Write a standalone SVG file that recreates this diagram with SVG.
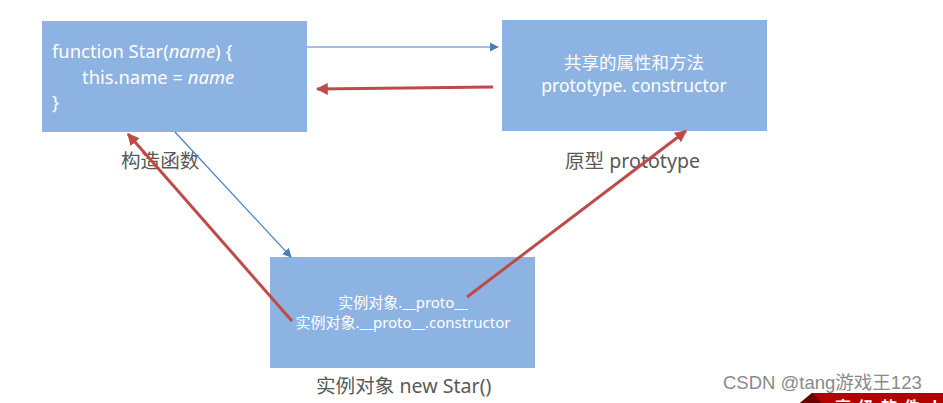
<svg xmlns="http://www.w3.org/2000/svg" width="943" height="403" viewBox="0 0 943 403">
<style>
.box{fill:#8DB3E2}
.wt{fill:#ffffff;font-family:"Noto Sans","Noto Sans CJK SC",sans-serif}
.lbl{fill:#595959;font-family:"Noto Sans","Noto Sans CJK SC",sans-serif;font-size:19.6px}
.blue{stroke:#4A7EBB;stroke-width:1.2;fill:none}
.red{stroke:#BE4B48;stroke-width:3;fill:none}
</style>
<defs>
<marker id="ab" viewBox="0 0 10 10" refX="9" refY="5" markerWidth="9" markerHeight="9" markerUnits="userSpaceOnUse" orient="auto">
<path d="M0,0 L10,5 L0,10 z" fill="#4A7EBB"/>
</marker>
<marker id="ar" viewBox="0 0 10 10" refX="9" refY="5" markerWidth="12" markerHeight="12" markerUnits="userSpaceOnUse" orient="auto">
<path d="M0,0 L10,5 L0,10 z" fill="#BE4B48"/>
</marker>
</defs>
<rect width="943" height="403" fill="#ffffff"/>
<g id="constructor">
<rect class="box" x="42" y="21" width="265" height="111"/>
<text class="wt" font-size="18.4" x="52" y="58">function Star(<tspan font-style="italic">name</tspan>) {</text>
<text class="wt" font-size="18.4" x="82" y="84">this.name = <tspan font-style="italic">name</tspan></text>
<text class="wt" font-size="18.4" x="52" y="109">}</text>
<text class="lbl" x="121" y="168">构造函数</text>
</g>
<g id="prototype">
<rect class="box" x="502" y="20" width="265" height="111"/>
<text class="wt" font-size="17.5" x="634" y="69" text-anchor="middle">共享的属性和方法</text>
<text class="wt" font-size="17.5" x="634" y="92" text-anchor="middle">prototype. constructor</text>
<text class="lbl" x="565" y="168">原型 prototype</text>
</g>
<g id="instance">
<rect class="box" x="270" y="257" width="265" height="111"/>
<text class="wt" font-size="15" x="403" y="308" text-anchor="middle">实例对象.__proto__</text>
<text class="wt" font-size="15" x="403" y="328" text-anchor="middle">实例对象.__proto__.constructor</text>
<text class="lbl" x="316" y="393">实例对象 new Star()</text>
</g>
<g id="connectors">
<line class="blue" x1="307" y1="47" x2="498" y2="47" marker-end="url(#ab)"/>
<line class="red" x1="493" y1="87" x2="317" y2="89" marker-end="url(#ar)"/>
<line class="blue" x1="175" y1="132" x2="291" y2="257" marker-end="url(#ab)"/>
<line class="red" x1="292" y1="321" x2="128" y2="134" marker-end="url(#ar)"/>
<line class="red" x1="467" y1="297" x2="686" y2="131" marker-end="url(#ar)"/>
</g>
<g id="watermark">
<text x="723" y="389" font-family="'Liberation Sans','Noto Sans CJK SC',sans-serif" font-size="18.5" fill="#8a8a8a">CSDN @tang游戏王123</text>
<polygon points="800,403 812,393 943,393 943,403" fill="#B30000"/>
<polygon points="800,403 812,393 822,403" fill="#6B0000"/>
<text x="835" y="413" font-family="'Noto Sans CJK SC',serif" font-size="16" font-weight="bold" fill="#ffffff" letter-spacing="7">高级软件人才</text>
</g>
</svg>
